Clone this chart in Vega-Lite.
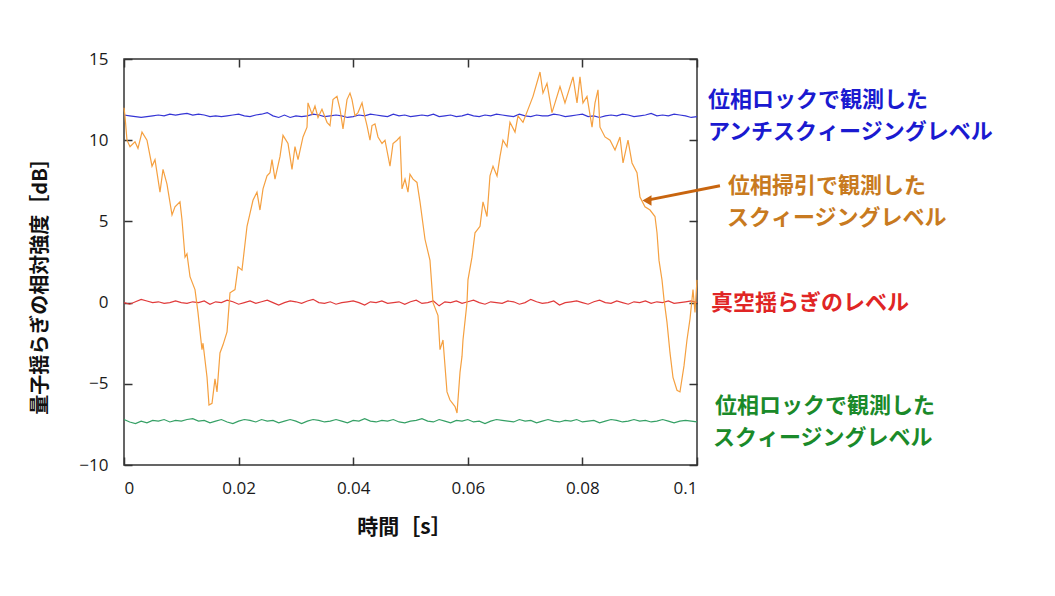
{
  "$schema": "https://vega.github.io/schema/vega-lite/v6.json",
  "width": 573,
  "height": 406,
  "autosize": {"type": "none"},
  "padding": {"left": 124, "top": 59, "right": 358, "bottom": 131},
  "background": "white",
  "config": {
    "view": {"stroke": "#333333", "strokeWidth": 1.5},
    "axis": {"labelFont": "Open Sans", "labelFontSize": 17, "labelColor": "#1a1a1a", "tickColor": "#333333", "tickSize": -8, "tickWidth": 1.5, "grid": false, "domain": false}
  },
  "datasets": {
    "orange": [
      {"t":0.0,"v":12.0},{"t":0.00017,"v":11.5},{"t":0.00052,"v":10.0},{"t":0.00105,"v":9.6},{"t":0.00192,"v":9.9},{"t":0.00244,"v":9.5},{"t":0.00314,"v":10.5},{"t":0.00401,"v":10.0},{"t":0.00489,"v":8.4},{"t":0.00541,"v":8.8},
      {"t":0.00628,"v":6.8},{"t":0.00681,"v":8.2},{"t":0.0075,"v":7.3},{"t":0.00838,"v":5.4},{"t":0.0089,"v":5.9},{"t":0.00977,"v":6.2},{"t":0.01012,"v":5.1},{"t":0.01065,"v":2.8},{"t":0.01099,"v":3.0},{"t":0.01152,"v":1.6},
      {"t":0.01239,"v":0.8},{"t":0.01291,"v":-0.6},{"t":0.01361,"v":-2.9},{"t":0.01379,"v":-2.5},{"t":0.01449,"v":-4.6},{"t":0.01483,"v":-6.3},{"t":0.01536,"v":-6.2},{"t":0.01588,"v":-4.7},{"t":0.01623,"v":-5.5},{"t":0.01675,"v":-3.1},
      {"t":0.01728,"v":-2.6},{"t":0.01798,"v":-1.8},{"t":0.0185,"v":0.6},{"t":0.01937,"v":0.8},{"t":0.0199,"v":2.2},{"t":0.02059,"v":2.0},{"t":0.02147,"v":4.7},{"t":0.02199,"v":5.5},{"t":0.02251,"v":6.3},{"t":0.02321,"v":6.8},
      {"t":0.02373,"v":5.7},{"t":0.02426,"v":7.0},{"t":0.02496,"v":7.8},{"t":0.02548,"v":8.0},{"t":0.02583,"v":8.8},{"t":0.02635,"v":7.6},{"t":0.02723,"v":9.0},{"t":0.02775,"v":10.3},{"t":0.02862,"v":9.8},{"t":0.02932,"v":8.2},
      {"t":0.02984,"v":9.6},{"t":0.03037,"v":8.8},{"t":0.03124,"v":10.2},{"t":0.03194,"v":10.8},{"t":0.03211,"v":12.3},{"t":0.03281,"v":11.6},{"t":0.03333,"v":12.1},{"t":0.03386,"v":11.4},{"t":0.03455,"v":11.9},{"t":0.03543,"v":11.1},
      {"t":0.03595,"v":10.9},{"t":0.03647,"v":12.5},{"t":0.03717,"v":12.7},{"t":0.0377,"v":11.9},{"t":0.03822,"v":10.7},{"t":0.03892,"v":12.5},{"t":0.03944,"v":12.9},{"t":0.03979,"v":12.5},{"t":0.04031,"v":11.5},{"t":0.04084,"v":11.7},
      {"t":0.04154,"v":12.3},{"t":0.04206,"v":11.4},{"t":0.04241,"v":10.9},{"t":0.04293,"v":10.0},{"t":0.04328,"v":10.9},{"t":0.0438,"v":11.0},{"t":0.04433,"v":10.2},{"t":0.04503,"v":9.8},{"t":0.04555,"v":10.0},{"t":0.04642,"v":8.4},
      {"t":0.04695,"v":9.8},{"t":0.04764,"v":10.0},{"t":0.04817,"v":10.2},{"t":0.04852,"v":7.0},{"t":0.04904,"v":7.6},{"t":0.04956,"v":6.8},{"t":0.04991,"v":7.9},{"t":0.05044,"v":7.6},{"t":0.05113,"v":7.4},{"t":0.05166,"v":6.2},
      {"t":0.05253,"v":3.9},{"t":0.0534,"v":2.6},{"t":0.05393,"v":0.0},{"t":0.0548,"v":-0.8},{"t":0.05515,"v":-2.9},{"t":0.05567,"v":-2.3},{"t":0.05637,"v":-5.5},{"t":0.05689,"v":-6.0},{"t":0.05777,"v":-6.4},{"t":0.05812,"v":-6.8},
      {"t":0.05864,"v":-4.3},{"t":0.05899,"v":-3.3},{"t":0.05916,"v":-2.3},{"t":0.05986,"v":0.0},{"t":0.06003,"v":1.4},{"t":0.06073,"v":2.8},{"t":0.06126,"v":4.3},{"t":0.06213,"v":4.7},{"t":0.06265,"v":6.2},{"t":0.06335,"v":5.3},
      {"t":0.06387,"v":7.8},{"t":0.0644,"v":8.4},{"t":0.0651,"v":7.8},{"t":0.06562,"v":9.0},{"t":0.06614,"v":10.0},{"t":0.06684,"v":9.6},{"t":0.06736,"v":11.1},{"t":0.06824,"v":10.5},{"t":0.06876,"v":11.5},{"t":0.06963,"v":11.1},
      {"t":0.07051,"v":11.9},{"t":0.07138,"v":12.7},{"t":0.0726,"v":14.2},{"t":0.07312,"v":12.9},{"t":0.07382,"v":13.5},{"t":0.07469,"v":11.7},{"t":0.07522,"v":12.3},{"t":0.07609,"v":13.3},{"t":0.07696,"v":12.3},{"t":0.07749,"v":12.9},
      {"t":0.07836,"v":13.9},{"t":0.07906,"v":12.3},{"t":0.07958,"v":13.9},{"t":0.0801,"v":12.3},{"t":0.0808,"v":12.7},{"t":0.08168,"v":10.8},{"t":0.0822,"v":12.3},{"t":0.08272,"v":13.1},{"t":0.08307,"v":10.8},{"t":0.08394,"v":10.2},
      {"t":0.08482,"v":10.0},{"t":0.08569,"v":9.4},{"t":0.08656,"v":10.2},{"t":0.08709,"v":8.6},{"t":0.08796,"v":10.0},{"t":0.08866,"v":8.6},{"t":0.08953,"v":8.0},{"t":0.09005,"v":6.5},{"t":0.09092,"v":5.9},{"t":0.0918,"v":5.7},
      {"t":0.09267,"v":5.3},{"t":0.09302,"v":4.3},{"t":0.09337,"v":2.6},{"t":0.09389,"v":1.4},{"t":0.09424,"v":0.2},{"t":0.09476,"v":-1.2},{"t":0.09529,"v":-3.1},{"t":0.09581,"v":-4.6},{"t":0.09651,"v":-5.4},{"t":0.09703,"v":-5.5},
      {"t":0.09773,"v":-3.9},{"t":0.09825,"v":-2.3},{"t":0.09878,"v":-1.0},{"t":0.0993,"v":0.8},{"t":0.09965,"v":-0.6},{"t":0.1,"v":1.4}
    ],
    "flat": [
      {"s":"anti","t":0.000,"v":11.55},{"s":"anti","t":0.001,"v":11.5},{"s":"anti","t":0.002,"v":11.45},{"s":"anti","t":0.003,"v":11.4},{"s":"anti","t":0.004,"v":11.45},{"s":"anti","t":0.005,"v":11.5},{"s":"anti","t":0.006,"v":11.55},{"s":"anti","t":0.007,"v":11.5},{"s":"anti","t":0.008,"v":11.6},{"s":"anti","t":0.009,"v":11.55},
      {"s":"anti","t":0.010,"v":11.6},{"s":"anti","t":0.011,"v":11.65},{"s":"anti","t":0.012,"v":11.55},{"s":"anti","t":0.013,"v":11.6},{"s":"anti","t":0.014,"v":11.55},{"s":"anti","t":0.015,"v":11.45},{"s":"anti","t":0.016,"v":11.5},{"s":"anti","t":0.017,"v":11.45},{"s":"anti","t":0.018,"v":11.5},{"s":"anti","t":0.019,"v":11.55},
      {"s":"anti","t":0.020,"v":11.6},{"s":"anti","t":0.021,"v":11.5},{"s":"anti","t":0.022,"v":11.45},{"s":"anti","t":0.023,"v":11.55},{"s":"anti","t":0.024,"v":11.6},{"s":"anti","t":0.025,"v":11.7},{"s":"anti","t":0.026,"v":11.5},{"s":"anti","t":0.027,"v":11.4},{"s":"anti","t":0.028,"v":11.55},{"s":"anti","t":0.029,"v":11.4},
      {"s":"anti","t":0.030,"v":11.5},{"s":"anti","t":0.031,"v":11.45},{"s":"anti","t":0.032,"v":11.5},{"s":"anti","t":0.033,"v":11.6},{"s":"anti","t":0.034,"v":11.55},{"s":"anti","t":0.035,"v":11.45},{"s":"anti","t":0.036,"v":11.5},{"s":"anti","t":0.037,"v":11.55},{"s":"anti","t":0.038,"v":11.5},{"s":"anti","t":0.039,"v":11.4},
      {"s":"anti","t":0.040,"v":11.45},{"s":"anti","t":0.041,"v":11.55},{"s":"anti","t":0.042,"v":11.5},{"s":"anti","t":0.043,"v":11.6},{"s":"anti","t":0.044,"v":11.55},{"s":"anti","t":0.045,"v":11.5},{"s":"anti","t":0.046,"v":11.45},{"s":"anti","t":0.047,"v":11.6},{"s":"anti","t":0.048,"v":11.5},{"s":"anti","t":0.049,"v":11.55},
      {"s":"anti","t":0.050,"v":11.45},{"s":"anti","t":0.051,"v":11.5},{"s":"anti","t":0.052,"v":11.55},{"s":"anti","t":0.053,"v":11.5},{"s":"anti","t":0.054,"v":11.6},{"s":"anti","t":0.055,"v":11.45},{"s":"anti","t":0.056,"v":11.5},{"s":"anti","t":0.057,"v":11.55},{"s":"anti","t":0.058,"v":11.45},{"s":"anti","t":0.059,"v":11.5},
      {"s":"anti","t":0.060,"v":11.6},{"s":"anti","t":0.061,"v":11.5},{"s":"anti","t":0.062,"v":11.45},{"s":"anti","t":0.063,"v":11.55},{"s":"anti","t":0.064,"v":11.5},{"s":"anti","t":0.065,"v":11.6},{"s":"anti","t":0.066,"v":11.55},{"s":"anti","t":0.067,"v":11.5},{"s":"anti","t":0.068,"v":11.45},{"s":"anti","t":0.069,"v":11.6},
      {"s":"anti","t":0.070,"v":11.5},{"s":"anti","t":0.071,"v":11.45},{"s":"anti","t":0.072,"v":11.55},{"s":"anti","t":0.073,"v":11.5},{"s":"anti","t":0.074,"v":11.5},{"s":"anti","t":0.075,"v":11.6},{"s":"anti","t":0.076,"v":11.55},{"s":"anti","t":0.077,"v":11.45},{"s":"anti","t":0.078,"v":11.5},{"s":"anti","t":0.079,"v":11.55},
      {"s":"anti","t":0.080,"v":11.6},{"s":"anti","t":0.081,"v":11.45},{"s":"anti","t":0.082,"v":11.5},{"s":"anti","t":0.083,"v":11.4},{"s":"anti","t":0.084,"v":11.5},{"s":"anti","t":0.085,"v":11.55},{"s":"anti","t":0.086,"v":11.5},{"s":"anti","t":0.087,"v":11.6},{"s":"anti","t":0.088,"v":11.55},{"s":"anti","t":0.089,"v":11.45},
      {"s":"anti","t":0.090,"v":11.5},{"s":"anti","t":0.091,"v":11.55},{"s":"anti","t":0.092,"v":11.65},{"s":"anti","t":0.093,"v":11.5},{"s":"anti","t":0.094,"v":11.55},{"s":"anti","t":0.095,"v":11.5},{"s":"anti","t":0.096,"v":11.6},{"s":"anti","t":0.097,"v":11.55},{"s":"anti","t":0.098,"v":11.5},{"s":"anti","t":0.099,"v":11.4},{"s":"anti","t":0.100,"v":11.45},
      {"s":"vac","t":0.000,"v":0.0},{"s":"vac","t":0.001,"v":-0.1},{"s":"vac","t":0.002,"v":0.05},{"s":"vac","t":0.003,"v":0.2},{"s":"vac","t":0.004,"v":0.1},{"s":"vac","t":0.005,"v":0.0},{"s":"vac","t":0.006,"v":0.05},{"s":"vac","t":0.007,"v":-0.05},{"s":"vac","t":0.008,"v":0.0},{"s":"vac","t":0.009,"v":0.1},
      {"s":"vac","t":0.010,"v":0.0},{"s":"vac","t":0.011,"v":-0.05},{"s":"vac","t":0.012,"v":0.05},{"s":"vac","t":0.013,"v":0.0},{"s":"vac","t":0.014,"v":0.1},{"s":"vac","t":0.015,"v":-0.1},{"s":"vac","t":0.016,"v":0.05},{"s":"vac","t":0.017,"v":0.0},{"s":"vac","t":0.018,"v":0.15},{"s":"vac","t":0.019,"v":0.05},
      {"s":"vac","t":0.020,"v":-0.1},{"s":"vac","t":0.021,"v":0.0},{"s":"vac","t":0.022,"v":0.1},{"s":"vac","t":0.023,"v":-0.05},{"s":"vac","t":0.024,"v":0.05},{"s":"vac","t":0.025,"v":0.15},{"s":"vac","t":0.026,"v":0.0},{"s":"vac","t":0.027,"v":-0.15},{"s":"vac","t":0.028,"v":0.0},{"s":"vac","t":0.029,"v":0.1},
      {"s":"vac","t":0.030,"v":0.05},{"s":"vac","t":0.031,"v":-0.05},{"s":"vac","t":0.032,"v":0.1},{"s":"vac","t":0.033,"v":0.2},{"s":"vac","t":0.034,"v":0.0},{"s":"vac","t":0.035,"v":-0.05},{"s":"vac","t":0.036,"v":0.05},{"s":"vac","t":0.037,"v":-0.1},{"s":"vac","t":0.038,"v":0.0},{"s":"vac","t":0.039,"v":0.05},
      {"s":"vac","t":0.040,"v":0.1},{"s":"vac","t":0.041,"v":0.0},{"s":"vac","t":0.042,"v":-0.15},{"s":"vac","t":0.043,"v":0.05},{"s":"vac","t":0.044,"v":0.0},{"s":"vac","t":0.045,"v":0.1},{"s":"vac","t":0.046,"v":-0.05},{"s":"vac","t":0.047,"v":0.0},{"s":"vac","t":0.048,"v":0.05},{"s":"vac","t":0.049,"v":-0.1},
      {"s":"vac","t":0.050,"v":0.05},{"s":"vac","t":0.051,"v":0.15},{"s":"vac","t":0.052,"v":-0.05},{"s":"vac","t":0.053,"v":0.0},{"s":"vac","t":0.054,"v":0.1},{"s":"vac","t":0.055,"v":-0.2},{"s":"vac","t":0.056,"v":0.05},{"s":"vac","t":0.057,"v":0.0},{"s":"vac","t":0.058,"v":0.1},{"s":"vac","t":0.059,"v":-0.05},
      {"s":"vac","t":0.060,"v":0.05},{"s":"vac","t":0.061,"v":0.15},{"s":"vac","t":0.062,"v":0.0},{"s":"vac","t":0.063,"v":-0.1},{"s":"vac","t":0.064,"v":0.05},{"s":"vac","t":0.065,"v":0.0},{"s":"vac","t":0.066,"v":-0.05},{"s":"vac","t":0.067,"v":0.1},{"s":"vac","t":0.068,"v":0.05},{"s":"vac","t":0.069,"v":-0.1},
      {"s":"vac","t":0.070,"v":0.0},{"s":"vac","t":0.071,"v":0.2},{"s":"vac","t":0.072,"v":0.05},{"s":"vac","t":0.073,"v":-0.05},{"s":"vac","t":0.074,"v":0.0},{"s":"vac","t":0.075,"v":0.1},{"s":"vac","t":0.076,"v":-0.15},{"s":"vac","t":0.077,"v":0.0},{"s":"vac","t":0.078,"v":0.05},{"s":"vac","t":0.079,"v":0.1},
      {"s":"vac","t":0.080,"v":0.0},{"s":"vac","t":0.081,"v":-0.1},{"s":"vac","t":0.082,"v":0.05},{"s":"vac","t":0.083,"v":0.15},{"s":"vac","t":0.084,"v":0.0},{"s":"vac","t":0.085,"v":-0.05},{"s":"vac","t":0.086,"v":0.1},{"s":"vac","t":0.087,"v":0.0},{"s":"vac","t":0.088,"v":-0.1},{"s":"vac","t":0.089,"v":0.05},
      {"s":"vac","t":0.090,"v":0.0},{"s":"vac","t":0.091,"v":0.1},{"s":"vac","t":0.092,"v":-0.05},{"s":"vac","t":0.093,"v":0.05},{"s":"vac","t":0.094,"v":0.0},{"s":"vac","t":0.095,"v":0.1},{"s":"vac","t":0.096,"v":-0.05},{"s":"vac","t":0.097,"v":0.0},{"s":"vac","t":0.098,"v":0.05},{"s":"vac","t":0.099,"v":0.1},{"s":"vac","t":0.100,"v":0.0},
      {"s":"sq","t":0.000,"v":-7.2},{"s":"sq","t":0.001,"v":-7.35},{"s":"sq","t":0.002,"v":-7.45},{"s":"sq","t":0.003,"v":-7.3},{"s":"sq","t":0.004,"v":-7.4},{"s":"sq","t":0.005,"v":-7.25},{"s":"sq","t":0.006,"v":-7.3},{"s":"sq","t":0.007,"v":-7.2},{"s":"sq","t":0.008,"v":-7.35},{"s":"sq","t":0.009,"v":-7.25},
      {"s":"sq","t":0.010,"v":-7.3},{"s":"sq","t":0.011,"v":-7.2},{"s":"sq","t":0.012,"v":-7.15},{"s":"sq","t":0.013,"v":-7.3},{"s":"sq","t":0.014,"v":-7.25},{"s":"sq","t":0.015,"v":-7.4},{"s":"sq","t":0.016,"v":-7.3},{"s":"sq","t":0.017,"v":-7.2},{"s":"sq","t":0.018,"v":-7.35},{"s":"sq","t":0.019,"v":-7.45},
      {"s":"sq","t":0.020,"v":-7.3},{"s":"sq","t":0.021,"v":-7.2},{"s":"sq","t":0.022,"v":-7.25},{"s":"sq","t":0.023,"v":-7.35},{"s":"sq","t":0.024,"v":-7.2},{"s":"sq","t":0.025,"v":-7.3},{"s":"sq","t":0.026,"v":-7.25},{"s":"sq","t":0.027,"v":-7.4},{"s":"sq","t":0.028,"v":-7.3},{"s":"sq","t":0.029,"v":-7.2},
      {"s":"sq","t":0.030,"v":-7.3},{"s":"sq","t":0.031,"v":-7.45},{"s":"sq","t":0.032,"v":-7.3},{"s":"sq","t":0.033,"v":-7.2},{"s":"sq","t":0.034,"v":-7.25},{"s":"sq","t":0.035,"v":-7.35},{"s":"sq","t":0.036,"v":-7.3},{"s":"sq","t":0.037,"v":-7.2},{"s":"sq","t":0.038,"v":-7.3},{"s":"sq","t":0.039,"v":-7.4},
      {"s":"sq","t":0.040,"v":-7.25},{"s":"sq","t":0.041,"v":-7.3},{"s":"sq","t":0.042,"v":-7.15},{"s":"sq","t":0.043,"v":-7.3},{"s":"sq","t":0.044,"v":-7.35},{"s":"sq","t":0.045,"v":-7.25},{"s":"sq","t":0.046,"v":-7.3},{"s":"sq","t":0.047,"v":-7.2},{"s":"sq","t":0.048,"v":-7.35},{"s":"sq","t":0.049,"v":-7.4},
      {"s":"sq","t":0.050,"v":-7.3},{"s":"sq","t":0.051,"v":-7.25},{"s":"sq","t":0.052,"v":-7.15},{"s":"sq","t":0.053,"v":-7.3},{"s":"sq","t":0.054,"v":-7.35},{"s":"sq","t":0.055,"v":-7.2},{"s":"sq","t":0.056,"v":-7.3},{"s":"sq","t":0.057,"v":-7.4},{"s":"sq","t":0.058,"v":-7.25},{"s":"sq","t":0.059,"v":-7.3},
      {"s":"sq","t":0.060,"v":-7.2},{"s":"sq","t":0.061,"v":-7.35},{"s":"sq","t":0.062,"v":-7.3},{"s":"sq","t":0.063,"v":-7.45},{"s":"sq","t":0.064,"v":-7.3},{"s":"sq","t":0.065,"v":-7.2},{"s":"sq","t":0.066,"v":-7.25},{"s":"sq","t":0.067,"v":-7.3},{"s":"sq","t":0.068,"v":-7.35},{"s":"sq","t":0.069,"v":-7.2},
      {"s":"sq","t":0.070,"v":-7.3},{"s":"sq","t":0.071,"v":-7.25},{"s":"sq","t":0.072,"v":-7.4},{"s":"sq","t":0.073,"v":-7.3},{"s":"sq","t":0.074,"v":-7.2},{"s":"sq","t":0.075,"v":-7.3},{"s":"sq","t":0.076,"v":-7.35},{"s":"sq","t":0.077,"v":-7.25},{"s":"sq","t":0.078,"v":-7.3},{"s":"sq","t":0.079,"v":-7.2},
      {"s":"sq","t":0.080,"v":-7.35},{"s":"sq","t":0.081,"v":-7.3},{"s":"sq","t":0.082,"v":-7.25},{"s":"sq","t":0.083,"v":-7.4},{"s":"sq","t":0.084,"v":-7.3},{"s":"sq","t":0.085,"v":-7.2},{"s":"sq","t":0.086,"v":-7.25},{"s":"sq","t":0.087,"v":-7.35},{"s":"sq","t":0.088,"v":-7.3},{"s":"sq","t":0.089,"v":-7.2},
      {"s":"sq","t":0.090,"v":-7.3},{"s":"sq","t":0.091,"v":-7.25},{"s":"sq","t":0.092,"v":-7.35},{"s":"sq","t":0.093,"v":-7.3},{"s":"sq","t":0.094,"v":-7.2},{"s":"sq","t":0.095,"v":-7.3},{"s":"sq","t":0.096,"v":-7.4},{"s":"sq","t":0.097,"v":-7.3},{"s":"sq","t":0.098,"v":-7.25},{"s":"sq","t":0.099,"v":-7.3},{"s":"sq","t":0.100,"v":-7.35}
    ],
    "labels": [
      {"s":"anti","t":0.10192,"v":12.5,"text":"位相ロックで観測した"},
      {"s":"anti","t":0.10192,"v":10.53,"text":"アンチスクィージングレベル"},
      {"s":"sweep","t":0.10541,"v":7.17,"text":"位相掃引で観測した"},
      {"s":"sweep","t":0.10524,"v":5.2,"text":"スクィージングレベル"},
      {"s":"vac","t":0.10244,"v":0.0,"text":"真空揺らぎのレベル"},
      {"s":"sq","t":0.10314,"v":-6.37,"text":"位相ロックで観測した"},
      {"s":"sq","t":0.10279,"v":-8.34,"text":"スクィージングレベル"}
    ],
    "arrow": [
      {"t":0.10401,"v":7.2,"t2":0.0918,"v2":6.34}
    ],
    "head": [
      {"t":0.09127,"v":6.28}
    ]
  },
  "layer": [
    {
      "layer": [
        {
          "data": {"name": "flat"},
          "mark": {"type": "line", "strokeWidth": 1.2, "interpolate": "linear"},
          "encoding": {
            "x": {"field": "t", "type": "quantitative", "scale": {"domain": [0, 0.1], "nice": false, "zero": false},
                  "axis": {"values": [0, 0.02, 0.04, 0.06, 0.08, 0.1], "format": "~g", "labelPadding": 23, "title": "時間［s］", "titleFont": "Noto Sans CJK JP", "titleFontSize": 21, "titleFontWeight": "bold", "titleColor": "#111111", "titleX": 280, "titleY": 62, "titleBaseline": "middle", "titleAlign": "center"}},
            "y": {"field": "v", "type": "quantitative", "scale": {"domain": [-10, 15], "nice": false, "zero": false},
                  "axis": {"values": [-10, -5, 0, 5, 10, 15], "labelPadding": 24, "title": "量子揺らぎの相対強度［dB］", "titleFont": "Noto Sans CJK JP", "titleFontSize": 20, "titleFontWeight": "bold", "titleColor": "#111111", "titleX": -84, "titleY": 222, "titleBaseline": "middle", "titleAlign": "center", "titleAngle": -90}},
            "color": {"field": "s", "type": "nominal", "scale": {"domain": ["anti", "vac", "sq"], "range": ["#3535d5", "#e03a3a", "#35a065"]}, "legend": null},
            "detail": {"field": "s"}
          }
        },
        {
          "data": {"name": "orange"},
          "mark": {"type": "line", "strokeWidth": 1.2, "color": "#f5a040"},
          "encoding": {
            "x": {"field": "t", "type": "quantitative"},
            "y": {"field": "v", "type": "quantitative"}
          }
        },
        {
          "data": {"name": "labels"},
          "transform": [{"filter": "datum.s === 'anti'"}],
          "mark": {"type": "text", "align": "left", "baseline": "middle", "font": "Noto Sans CJK JP", "fontSize": 22, "fontWeight": "bold", "color": "#1a1ad0"},
          "encoding": {"x": {"field": "t", "type": "quantitative"}, "y": {"field": "v", "type": "quantitative"}, "text": {"field": "text"}}
        },
        {
          "data": {"name": "labels"},
          "transform": [{"filter": "datum.s === 'sweep'"}],
          "mark": {"type": "text", "align": "left", "baseline": "middle", "font": "Noto Sans CJK JP", "fontSize": 22, "fontWeight": "bold", "color": "#c87a20"},
          "encoding": {"x": {"field": "t", "type": "quantitative"}, "y": {"field": "v", "type": "quantitative"}, "text": {"field": "text"}}
        },
        {
          "data": {"name": "labels"},
          "transform": [{"filter": "datum.s === 'vac'"}],
          "mark": {"type": "text", "align": "left", "baseline": "middle", "font": "Noto Sans CJK JP", "fontSize": 22, "fontWeight": "bold", "color": "#e02525"},
          "encoding": {"x": {"field": "t", "type": "quantitative"}, "y": {"field": "v", "type": "quantitative"}, "text": {"field": "text"}}
        },
        {
          "data": {"name": "labels"},
          "transform": [{"filter": "datum.s === 'sq'"}],
          "mark": {"type": "text", "align": "left", "baseline": "middle", "font": "Noto Sans CJK JP", "fontSize": 22, "fontWeight": "bold", "color": "#1a8a2a"},
          "encoding": {"x": {"field": "t", "type": "quantitative"}, "y": {"field": "v", "type": "quantitative"}, "text": {"field": "text"}}
        },
        {
          "data": {"name": "arrow"},
          "mark": {"type": "rule", "strokeWidth": 3, "color": "#c8650f"},
          "encoding": {"x": {"field": "t", "type": "quantitative"}, "y": {"field": "v", "type": "quantitative"}, "x2": {"field": "t2"}, "y2": {"field": "v2"}}
        },
        {
          "data": {"name": "head"},
          "mark": {"type": "point", "shape": "triangle-left", "size": 110, "filled": true, "opacity": 1, "color": "#c8650f"},
          "encoding": {"x": {"field": "t", "type": "quantitative"}, "y": {"field": "v", "type": "quantitative"}}
        }
      ]
    },
    {
      "data": {"name": "head"},
      "mark": {"type": "point", "opacity": 0},
      "encoding": {
        "x": {"field": "t", "type": "quantitative", "scale": {"domain": [0, 0.1], "nice": false, "zero": false},
              "axis": {"orient": "top", "values": [0, 0.02, 0.04, 0.06, 0.08, 0.1], "labels": false, "title": null}},
        "y": {"field": "v", "type": "quantitative", "scale": {"domain": [-10, 15], "nice": false, "zero": false},
              "axis": {"orient": "right", "values": [-10, -5, 0, 5, 10, 15], "labels": false, "title": null}}
      }
    }
  ],
  "resolve": {"scale": {"x": "independent", "y": "independent"}}
}
